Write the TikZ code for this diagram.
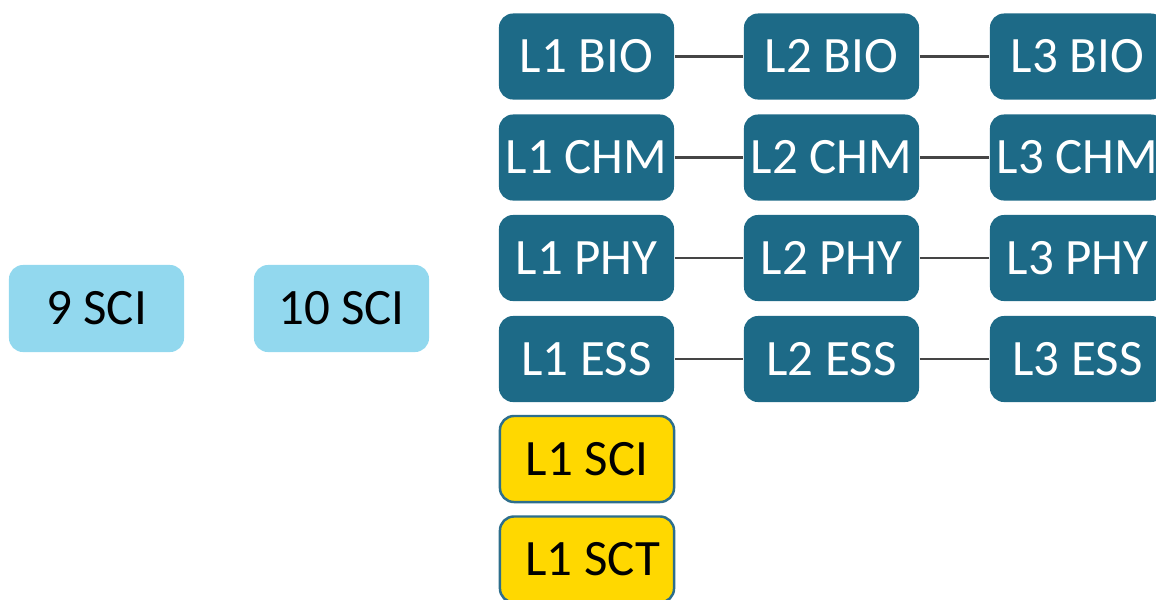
\documentclass[tikz,border=0pt]{standalone}
\usepackage{fontspec}
\setsansfont{Carlito}
\usepackage{tikz}
\usetikzlibrary{positioning}
\definecolor{courseCol}{HTML}{1D6A87}
\definecolor{gradeCol}{HTML}{92D8EE}
\definecolor{coreCol}{HTML}{FFD800}
\definecolor{coreLine}{HTML}{2D6E8C}
\definecolor{linkCol}{HTML}{454545}

\begin{document}
\begin{tikzpicture}[
  x=0.01cm, y=-0.01cm,
  every node/.style={font=\sffamily\fontsize{14.5}{16}\selectfont},
  coursebox/.style={rounded corners=4pt, minimum width=1.75cm, minimum height=0.86cm,
    fill=courseCol, text=white, inner sep=0pt, align=center},
  gradebox/.style={rounded corners=4pt, minimum width=1.75cm, minimum height=0.87cm,
    fill=gradeCol, text=black, inner sep=0pt},
  corebox/.style={rounded corners=4pt, minimum width=1.74cm, minimum height=0.86cm,
    fill=coreCol, draw=coreLine, line width=0.7pt, text=black, inner sep=0pt},
  link/.style={line width=0.8pt, color=linkCol},
]
\useasboundingbox (0,0) rectangle (1156,599);
\clip (0,0) rectangle (1156,599);
% grades
\node[gradebox] (g9) at (96.5, 308.5) {9 SCI};
\node[gradebox] (g10) at (341.5, 308.5) {10 SCI};
% level 1
\node[coursebox] (bio1) at (586.5, 56.5) {L1 BIO};
\node[coursebox] (chm1) at (586.5, 157.5) {L1 CHM};
\node[coursebox] (phy1) at (586.5, 258) {L1 PHY};
\node[coursebox] (ess1) at (586.5, 359) {L1 ESS};
\node[corebox] (sci1) at (587, 459) {L1 SCI};
\node[corebox] (sct1) at (587, 559.5) {\ L1 SCT};
% level 2
\node[coursebox] (bio2) at (831.5, 56.5) {L2 BIO};
\node[coursebox] (chm2) at (831.5, 157.5) {L2 CHM};
\node[coursebox] (phy2) at (831.5, 258) {L2 PHY};
\node[coursebox] (ess2) at (831.5, 359) {L2 ESS};
% level 3
\node[coursebox] (bio3) at (1077.5, 56.5) {L3 BIO};
\node[coursebox] (chm3) at (1077.5, 157.5) {L3 CHM};
\node[coursebox] (phy3) at (1077.5, 258) {L3 PHY};
\node[coursebox] (ess3) at (1077.5, 359) {L3 ESS};
% links
\draw[link] (bio1) -- (bio2);
\draw[link] (bio2) -- (bio3);
\draw[link] (chm1) -- (chm2);
\draw[link] (chm2) -- (chm3);
\draw[link] (phy1) -- (phy2);
\draw[link] (phy2) -- (phy3);
\draw[link] (ess1) -- (ess2);
\draw[link] (ess2) -- (ess3);
\end{tikzpicture}
\end{document}
